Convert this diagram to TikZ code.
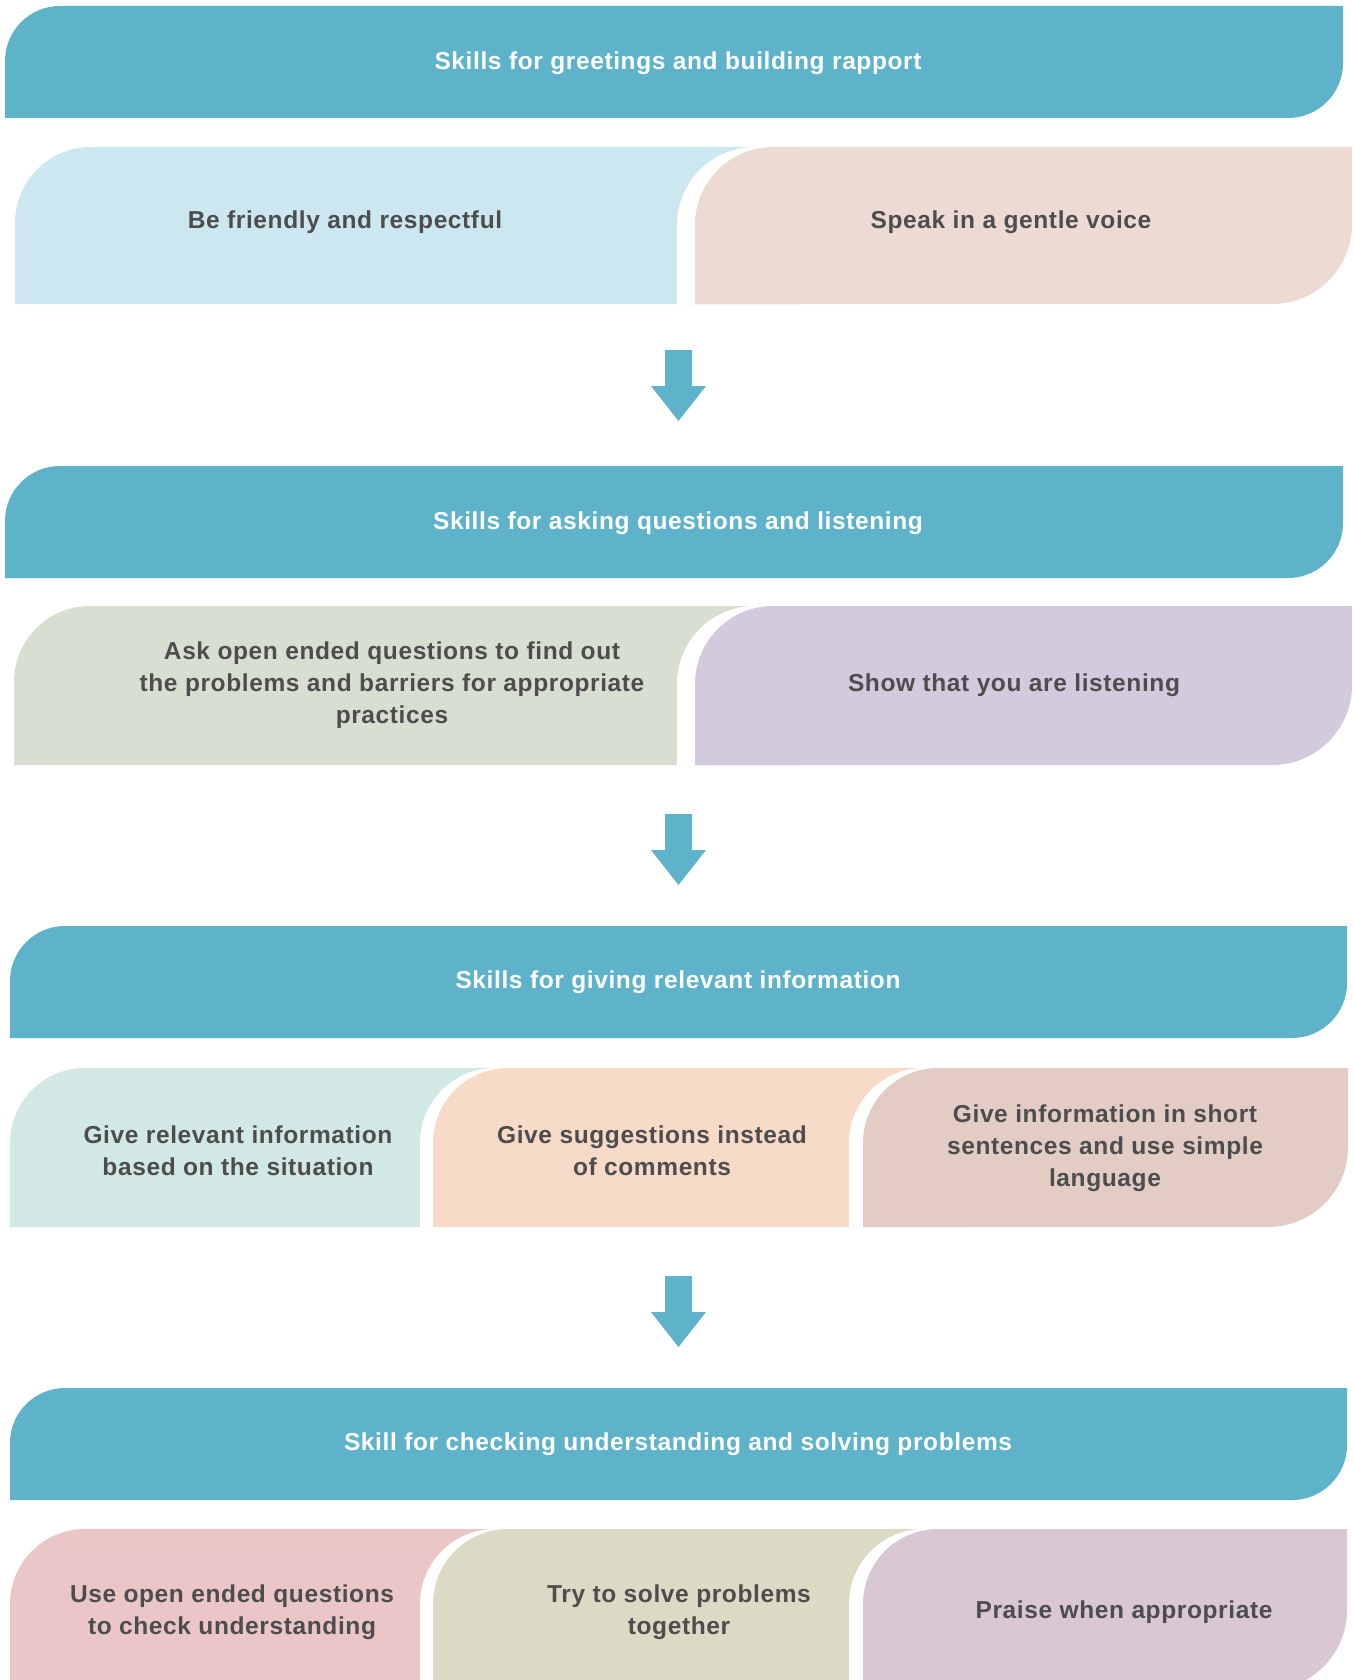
\documentclass[tikz,border=0pt]{standalone}
\usepackage{fontspec}
\setmainfont{Liberation Sans}
\newfontfamily\boxfont[LetterSpace=2.5]{Liberation Sans Bold}
\usetikzlibrary{calc}

\definecolor{headblue}{HTML}{5EB3CB}
\definecolor{txtgray}{HTML}{4D4D4D}
\definecolor{cA}{HTML}{CCE7EF}
\definecolor{cB}{HTML}{EDDAD3}
\definecolor{cC}{HTML}{D9DFD0}
\definecolor{cD}{HTML}{D4CADD}
\definecolor{cE}{HTML}{D1E8E5}
\definecolor{cF}{HTML}{F7DBC8}
\definecolor{cG}{HTML}{E2CCC4}
\definecolor{cH}{HTML}{EBC6C7}
\definecolor{cI}{HTML}{DCDAC5}
\definecolor{cJ}{HTML}{D9C7D3}

% box with rounded top-left (#6) and bottom-right (#7) corners
\newcommand\leafbox[7]{%
  \fill[#1] (#2,#5) -- (#2,{#3+#6})
    .. controls (#2,{#3+0.4477*#6}) and ({#2+0.4477*#6},#3) .. ({#2+#6},#3)
    -- (#4,#3) -- (#4,{#5-#7})
    .. controls (#4,{#5-0.4477*#7}) and ({#4-0.4477*#7},#5) .. ({#4-#7},#5)
    -- cycle;}

\tikzset{
  headtext/.style={font=\boxfont\fontsize{24.5}{32}\selectfont, text=white, align=center, inner sep=0pt},
  celltext/.style={font=\boxfont\fontsize{24.5}{32}\selectfont, text=txtgray, align=center, inner sep=0pt},
  flowarrow/.style={fill=headblue},
}

\begin{document}
\begin{tikzpicture}[x=1pt, y=-1pt]
\fill[white] (0,0) rectangle (1353,1680);
\useasboundingbox (0,0) rectangle (1353,1680);
\clip (0,0) rectangle (1353,1680);

% ---------- stage 1 ----------
\leafbox{headblue}{5}{6}{1343}{118}{55}{55}
\leafbox{cA}{15}{147}{800}{304}{76}{0}
\leafbox{white}{677}{147}{1334}{304}{78}{80}
\leafbox{cB}{695}{147}{1352}{304}{78}{80}
\node[headtext] (h1) at (678,63.5) {Skills for greetings and building rapport};
\node[celltext] (s1a) at (345,222.5) {Be friendly and respectful};
\node[celltext] (s1b) at (1011,222.5) {Speak in a gentle voice};

\coordinate (arr1) at (678.5,350);
\fill[flowarrow, shift={(arr1)}] (-13.5,0) -- (13.5,0) -- (13.5,36) -- (27.5,36) -- (0,71) -- (-27.5,36) -- (-13.5,36) -- cycle;

% ---------- stage 2 ----------
\leafbox{headblue}{5}{466}{1343}{578}{55}{55}
\leafbox{cC}{14}{606}{800}{765}{76}{0}
\leafbox{white}{677}{606}{1334}{765}{78}{80}
\leafbox{cD}{695}{606}{1352}{765}{78}{80}
\node[headtext] (h2) at (678,523.5) {Skills for asking questions and listening};
\node[celltext] (s2a) at (392,685.5) {Ask open ended questions to find out\\the problems and barriers for appropriate\\practices};
\node[celltext] (s2b) at (1014,685.5) {Show that you are listening};

\coordinate (arr2) at (678.5,814);
\fill[flowarrow, shift={(arr2)}] (-13.5,0) -- (13.5,0) -- (13.5,36) -- (27.5,36) -- (0,71) -- (-27.5,36) -- (-13.5,36) -- cycle;

% ---------- stage 3 ----------
\leafbox{headblue}{10}{926}{1347}{1038}{55}{55}
\leafbox{cE}{10}{1068}{530}{1227}{75}{0}
\leafbox{white}{420}{1068}{960}{1227}{75}{0}
\leafbox{cF}{433}{1068}{960}{1227}{75}{0}
\leafbox{white}{849}{1068}{1334}{1227}{75}{80}
\leafbox{cG}{863}{1068}{1348}{1227}{75}{80}
\node[headtext] (h3) at (678,982) {Skills for giving relevant information};
\node[celltext] (s3a) at (238,1150.5) {Give relevant information\\based on the situation};
\node[celltext] (s3b) at (652,1150.5) {Give suggestions instead\\of comments};
\node[celltext] (s3c) at (1105,1148.5) {Give information in short\\sentences and use simple\\language};

\coordinate (arr3) at (678.5,1276);
\fill[flowarrow, shift={(arr3)}] (-13.5,0) -- (13.5,0) -- (13.5,36) -- (27.5,36) -- (0,71) -- (-27.5,36) -- (-13.5,36) -- cycle;

% ---------- stage 4 ----------
\leafbox{headblue}{10}{1388}{1347}{1500}{55}{55}
\leafbox{cH}{10}{1529}{530}{1690}{75}{0}
\leafbox{white}{420}{1529}{960}{1690}{75}{0}
\leafbox{cI}{433}{1529}{960}{1690}{75}{0}
\leafbox{white}{849}{1529}{1333}{1690}{75}{80}
\leafbox{cJ}{863}{1529}{1347}{1690}{75}{80}
\node[headtext] (h4) at (678,1444.5) {Skill for checking understanding and solving problems};
\node[celltext] (s4a) at (232,1612) {Use open ended questions\\to check understanding};
\node[celltext] (s4b) at (679,1612) {Try to solve problems\\together};
\node[celltext] (s4c) at (1124,1612) {Praise when appropriate};
\end{tikzpicture}
\end{document}
